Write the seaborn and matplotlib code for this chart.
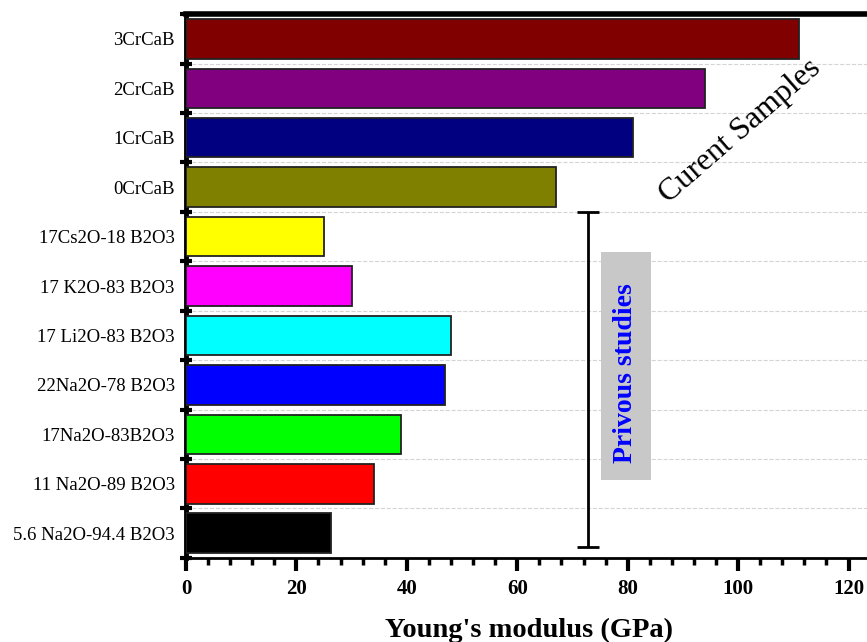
import numpy as np
import pandas as pd
import seaborn as sns
import matplotlib.pyplot as plt
from matplotlib.ticker import MultipleLocator, FixedLocator
from matplotlib.patches import Rectangle

# samples, top to bottom
samples = ['3CrCaB', '2CrCaB', '1CrCaB', '0CrCaB', '17Cs2O-18 B2O3', '17 K2O-83 B2O3',
           '17 Li2O-83 B2O3', '22Na2O-78 B2O3', '17Na2O-83B2O3', '11 Na2O-89 B2O3',
           '5.6 Na2O-94.4 B2O3']
modulus = [111, 94, 81, 67, 25, 30, 48, 47, 39, 34, 26.2]
colors = ['#800000', '#800080', '#000080', '#808000', '#ffff00', '#ff00ff',
          '#00ffff', '#0000ff', '#00ff00', '#ff0000', '#000000']

df = pd.DataFrame({'sample': samples, 'E': modulus})

sns.set_style('white', {'xtick.bottom': True, 'ytick.left': True,
                        'axes.edgecolor': 'black', 'text.color': 'black',
                        'xtick.color': 'black', 'ytick.color': 'black',
                        'axes.labelcolor': 'black'})
plt.rcParams['font.family'] = ['Liberation Serif', 'DejaVu Serif']

fig = plt.figure(figsize=(8.67, 6.42), dpi=100)
# the plot area runs just past the right edge of the picture
ax = fig.add_axes([0.2145, 0.131, 0.791, 0.847])

sns.barplot(data=df, y='sample', x='E', hue='sample', palette=colors, legend=False,
            orient='h', width=0.8, saturation=1, edgecolor='#222222', linewidth=1.3,
            ax=ax, zorder=3)

ax.set_xlim(0, 124.2)
ax.set_ylim(len(samples) - 0.5, -0.5)

# dashed grid at category boundaries
bounds = np.arange(-0.5, len(samples), 1.0)
ax.yaxis.set_minor_locator(FixedLocator(bounds))
ax.grid(False)
ax.grid(axis='y', which='minor', color='#d4d4d4', linestyle='--', linewidth=0.8, zorder=0)

ax.xaxis.set_major_locator(MultipleLocator(20))
ax.xaxis.set_minor_locator(MultipleLocator(4))
ax.tick_params(axis='x', which='major', direction='out', length=9, width=3, labelsize=15, pad=6)
ax.tick_params(axis='x', which='minor', direction='out', length=5, width=2.5)
ax.tick_params(axis='y', which='major', length=0, labelsize=13.5, pad=8)
ax.tick_params(axis='y', which='minor', direction='inout', length=9, width=3)
for lab in ax.get_xticklabels():
    lab.set_fontweight('bold')

ax.set_xlabel("Young's modulus (GPa)", fontsize=20.5, fontweight='bold', labelpad=14)
ax.set_ylabel('')

ax.spines['right'].set_visible(False)
ax.spines['left'].set_linewidth(3.5)
ax.spines['top'].set_linewidth(4)
ax.spines['bottom'].set_linewidth(2)

# annotations
bracket_x = 72.8
ax.errorbar([bracket_x], [(3.5 + 10.28) / 2], yerr=[(10.28 - 3.5) / 2], color='black',
            capsize=8, capthick=2, elinewidth=2, zorder=4)
ax.add_patch(Rectangle((75.1, 4.31), 9.2, 4.61, facecolor='#c8c8c8', edgecolor='none', zorder=4))
ax.text(79.6, 6.76, 'Privous studies', rotation=90, ha='center', va='center',
        fontsize=20, fontweight='bold', color='#0000ff', zorder=5)
ax.text(100.3, 1.87, 'Curent Samples', rotation=41, ha='center', va='center',
        fontsize=23, color='black', zorder=5)

fig.savefig('out.png', dpi=100)
